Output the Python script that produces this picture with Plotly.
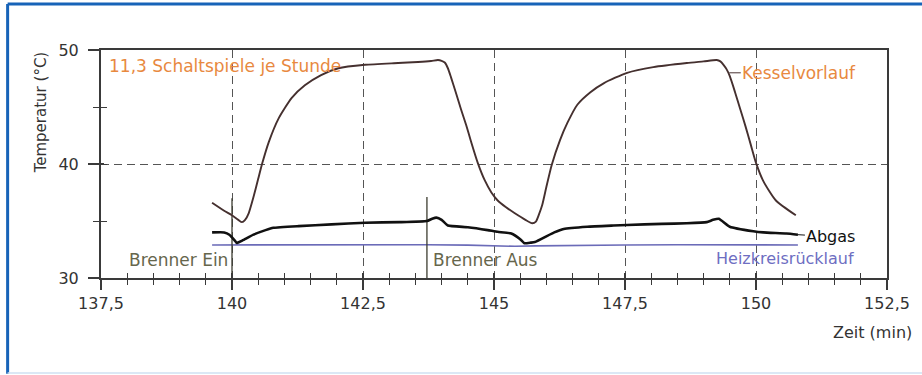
import plotly.graph_objects as go

# ---------------- data ----------------
kessel_t = [139.62, 139.85, 140.0, 140.12, 140.19, 140.25, 140.32, 140.41, 140.5, 140.58,
            140.7, 140.89, 141.14, 141.39, 141.7, 142.03, 142.54, 143.17, 143.55, 143.8,
            143.93, 144.0, 144.06, 144.12, 144.18, 144.27, 144.37, 144.47, 144.56, 144.69,
            144.82, 144.95, 145.07, 145.23, 145.39, 145.6, 145.73, 145.8, 145.86, 145.92,
            146.0, 146.1, 146.26, 146.4, 146.59, 146.84, 147.1, 147.54, 148.04, 148.68,
            149.0, 149.25, 149.32, 149.38, 149.44, 149.5, 149.6, 149.7, 149.8, 149.9,
            150.0, 150.14, 150.38, 150.76]
kessel_v = [36.6, 35.9, 35.5, 35.1, 34.9, 35.1, 35.7, 37.1, 38.7, 40.1,
            41.9, 44.0, 45.8, 46.9, 47.8, 48.4, 48.7, 48.86, 48.95, 49.04,
            49.12, 49.05, 48.9, 48.4, 47.6, 46.3, 44.8, 43.4, 42.0, 40.1,
            38.6, 37.5, 36.8, 36.2, 35.7, 35.1, 34.8, 34.95, 35.6, 36.4,
            38.0, 39.9, 42.1, 43.6, 45.2, 46.3, 47.1, 48.0, 48.5, 48.86,
            49.0, 49.12, 49.0, 48.7, 48.3, 47.7, 46.3, 44.8, 43.3, 41.7,
            40.1, 38.5, 36.8, 35.5]

abgas_t = [139.62, 139.85, 139.95, 140.05, 140.09, 140.2, 140.41, 140.64, 140.79, 141.27,
           141.9, 142.54, 143.2, 143.72, 143.82, 143.9, 144.0, 144.12, 144.5, 144.88,
           145.07, 145.33, 145.5, 145.58, 145.7, 145.78, 146.15, 146.33, 146.78, 147.28,
           147.54, 148.2, 148.68, 149.06, 149.18, 149.29, 149.5, 149.95, 150.14, 150.58,
           150.8]
abgas_v = [34.0, 34.0, 33.8, 33.3, 33.07, 33.3, 33.8, 34.2, 34.4, 34.55,
           34.7, 34.85, 34.9, 35.0, 35.2, 35.3, 35.1, 34.6, 34.45, 34.2,
           34.05, 33.9, 33.4, 33.05, 33.1, 33.15, 34.0, 34.3, 34.5, 34.6,
           34.65, 34.75, 34.8, 34.9, 35.1, 35.2, 34.5, 34.1, 34.0, 33.9,
           33.8]

heiz_t = [139.62, 141.0, 142.5, 143.7, 144.5, 145.0, 145.4, 145.8, 146.5, 147.5,
          148.5, 149.5, 150.0, 150.5, 150.8]
heiz_v = [32.9, 32.92, 32.93, 32.92, 32.88, 32.82, 32.78, 32.82, 32.88, 32.9,
          32.92, 32.93, 32.9, 32.88, 32.9]

brenner_ein_t = [140.0, 140.0]
brenner_ein_v = [37.0, 30.0]
brenner_aus_t = [143.72, 143.72]
brenner_aus_v = [37.1, 30.0]

x_ticks = [137.5, 140, 142.5, 145, 147.5, 150, 152.5]
x_labels = ["137,5", "140", "142,5", "145", "147,5", "150", "152,5"]
y_ticks = [30, 40, 50]
y_labels = ["30", "40", "50"]

X_RANGE = [137.5, 152.5]
Y_RANGE = [30, 50]

FONT = "DejaVu Sans"
AXC = "#3a3a3a"

fig = go.Figure()

fig.add_trace(go.Scatter(x=heiz_t, y=heiz_v, mode="lines",
                         line=dict(color="#6b6bb8", width=1.6), hoverinfo="skip"))
fig.add_trace(go.Scatter(x=brenner_ein_t, y=brenner_ein_v, mode="lines",
                         line=dict(color="#3c3c30", width=1.3), hoverinfo="skip"))
fig.add_trace(go.Scatter(x=brenner_aus_t, y=brenner_aus_v, mode="lines",
                         line=dict(color="#3c3c30", width=1.3), hoverinfo="skip"))
fig.add_trace(go.Scatter(x=abgas_t, y=abgas_v, mode="lines",
                         line=dict(color="#111111", width=2.6, shape="spline", smoothing=0.4),
                         hoverinfo="skip"))
fig.add_trace(go.Scatter(x=kessel_t, y=kessel_v, mode="lines",
                         line=dict(color="#45302f", width=1.9, shape="spline", smoothing=0.6),
                         hoverinfo="skip"))
# invisible trace to activate overlay axes (inner half of crossing ticks)
fig.add_trace(go.Scatter(x=x_ticks[:1], y=y_ticks[:1], mode="markers",
                         marker=dict(opacity=0), xaxis="x2", yaxis="y2", hoverinfo="skip"))

tickfont = dict(family=FONT, size=16, color="#333333")

fig.update_layout(
    width=922, height=375,
    margin=dict(l=101, r=30, t=50, b=97),
    paper_bgcolor="white", plot_bgcolor="white",
    showlegend=False, hovermode=False,
    xaxis=dict(range=X_RANGE, tickmode="array", tickvals=x_ticks, ticktext=x_labels,
               ticks="outside", ticklen=10, tickwidth=1.5, tickcolor=AXC,
               showline=True, linewidth=2, linecolor=AXC, mirror=True,
               showgrid=True, gridcolor="#555555", gridwidth=1.2, griddash="8px,5px",
               zeroline=False, tickfont=tickfont, ticklabelstandoff=0,
               minor=dict(tickmode="linear", tick0=137.5, dtick=0.5, ticks="outside",
                          ticklen=5, tickwidth=1.3, tickcolor=AXC, showgrid=False)),
    yaxis=dict(range=Y_RANGE, tickmode="array", tickvals=y_ticks, ticktext=y_labels,
               ticks="outside", ticklen=11, tickwidth=1.5, tickcolor=AXC,
               showline=True, linewidth=2, linecolor=AXC, mirror=True,
               showgrid=True, gridcolor="#555555", gridwidth=1.2, griddash="8px,5px",
               zeroline=False, tickfont=tickfont, ticklabelstandoff=6,
               minor=dict(tickmode="linear", tick0=30, dtick=5, ticks="outside",
                          ticklen=6, tickwidth=1.3, tickcolor=AXC, showgrid=False)),
    xaxis2=dict(range=X_RANGE, overlaying="x", anchor="y2", side="bottom",
                tickmode="array", tickvals=x_ticks, ticks="inside", ticklen=5,
                tickwidth=1.5, tickcolor=AXC, showticklabels=False, showgrid=False,
                showline=False, zeroline=False,
                minor=dict(tickmode="linear", tick0=137.5, dtick=0.5, ticks="inside",
                           ticklen=5, tickwidth=1.3, tickcolor=AXC, showgrid=False)),
    yaxis2=dict(range=Y_RANGE, overlaying="y", anchor="x2", side="left",
                tickmode="array", tickvals=y_ticks, ticks="inside", ticklen=3,
                tickwidth=1.5, tickcolor=AXC, showticklabels=False, showgrid=False,
                showline=False, zeroline=False,
                minor=dict(tickmode="linear", tick0=30, dtick=5, ticks="inside",
                           ticklen=6, tickwidth=1.3, tickcolor=AXC, showgrid=False)),
)

# page border (blue frame)
fig.add_shape(type="line", xref="paper", yref="paper", x0=-0.1188, x1=-0.1188,
              y0=1.2018, y1=-0.42, line=dict(color="#1763b8", width=3))
fig.add_shape(type="line", xref="paper", yref="paper", x0=-0.1188, x1=1.06,
              y0=1.2018, y1=1.2018, line=dict(color="#1763b8", width=3))
fig.add_shape(type="line", xref="paper", yref="paper", x0=-0.1188, x1=1.06,
              y0=-0.4167, y1=-0.4167, line=dict(color="#cfe0f2", width=1.5))

ORANGE = "#e8893f"
ann_font = lambda c, s=17: dict(family=FONT, size=s, color=c)

fig.add_annotation(x=137.62, y=48.6, xref="x", yref="y", text="11,3 Schaltspiele je Stunde",
                   showarrow=False, xanchor="left", yanchor="middle", font=ann_font(ORANGE))
fig.add_annotation(x=149.49, y=48.0, xref="x", yref="y", text="Kesselvorlauf",
                   showarrow=True, arrowhead=0, arrowwidth=1, arrowcolor="#4a3434",
                   ax=70, ay=0, xanchor="center", yanchor="middle", font=ann_font(ORANGE))
fig.add_annotation(x=150.8, y=33.8, xref="x", yref="y", text="Abgas",
                   showarrow=True, arrowhead=0, arrowwidth=1, arrowcolor="#111111",
                   ax=33, ay=2, xanchor="center", yanchor="middle",
                   font=ann_font("#111111", 16))
fig.add_annotation(x=149.19, y=31.75, xref="x", yref="y", text="Heizkreisrücklauf",
                   showarrow=False, xanchor="left", yanchor="middle",
                   font=ann_font("#6e6ec2", 16))
fig.add_annotation(x=138.0, y=31.58, xref="x", yref="y", text="Brenner Ein",
                   showarrow=False, xanchor="left", yanchor="middle",
                   font=ann_font("#66664c"))
fig.add_annotation(x=143.79, y=31.58, xref="x", yref="y", text="Brenner Aus",
                   showarrow=False, xanchor="left", yanchor="middle",
                   font=ann_font("#66664c"))

# axis titles
fig.add_annotation(x=-0.0759, y=0.728, xref="paper", yref="paper", text="Temperatur (°C)",
                   showarrow=False, textangle=-90, xanchor="center", yanchor="middle",
                   font=dict(family=FONT, size=15, color="#333333"))
fig.add_annotation(x=0.981, y=-0.237, xref="paper", yref="paper", text="Zeit (min)",
                   showarrow=False, xanchor="center", yanchor="middle",
                   font=dict(family=FONT, size=16, color="#333333"))

fig.write_html("out.html", config={"displayModeBar": False},
               post_script="document.body.style.margin='0';")
